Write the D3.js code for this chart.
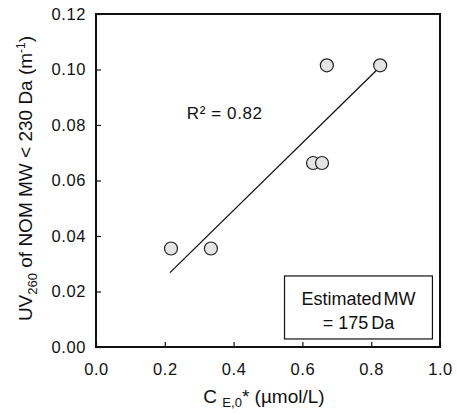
<!DOCTYPE html>
<html>
<head>
<meta charset="utf-8">
<script src="https://cdn.jsdelivr.net/npm/d3@7"></script>
<style>
  body { margin: 0; background: #fff; }
  text { font-family: "Liberation Sans", Arial, sans-serif; fill: #111; }
</style>
</head>
<body>
<div id="chart"></div>
<script>
var svgWidth = 457;
var svgHeight = 415;

var margin = { top: 14, right: 17, bottom: 68, left: 96 };
var width  = svgWidth  - margin.left - margin.right;
var height = svgHeight - margin.top  - margin.bottom;

// measured points
var ceValues = [0.218, 0.334, 0.631, 0.657, 0.671, 0.826];
var uvValues = [0.0355, 0.0355, 0.0663, 0.0663, 0.1015, 0.1015];

// regression line end points
var fitX = [0.215, 0.826];
var fitY = [0.0268, 0.1010];

var xTicks = [0.0, 0.2, 0.4, 0.6, 0.8, 1.0];
var yTicks = [0.00, 0.02, 0.04, 0.06, 0.08, 0.10, 0.12];

var svg = d3.select("#chart")
  .append("svg")
  .attr("width", svgWidth)
  .attr("height", svgHeight);

var chartGroup = svg.append("g")
  .attr("transform", `translate(${margin.left}, ${margin.top})`);

var xScale = d3.scaleLinear().domain([0, 1]).range([0, width]);
var yScale = d3.scaleLinear().domain([0, 0.12]).range([height, 0]);

// axes with inward ticks
var bottomAxis = d3.axisBottom(xScale)
  .tickValues(xTicks)
  .tickFormat(d3.format(".1f"))
  .tickSizeInner(-5)
  .tickSizeOuter(0)
  .tickPadding(16);

var leftAxis = d3.axisLeft(yScale)
  .tickValues(yTicks)
  .tickFormat(d3.format(".2f"))
  .tickSizeInner(-5)
  .tickSizeOuter(0)
  .tickPadding(10);

var xAxis = chartGroup.append("g")
  .attr("transform", `translate(0, ${height})`)
  .call(bottomAxis);

var yAxis = chartGroup.append("g")
  .call(leftAxis);

[xAxis, yAxis].forEach(function(ax) {
  ax.select(".domain").remove();
  ax.selectAll("line").attr("stroke", "#111").attr("stroke-width", 1.2);
  ax.selectAll("text")
    .attr("font-size", "16.5px")
    .attr("letter-spacing", "0.6px")
    .attr("fill", "#111");
});

// frame
chartGroup.append("rect")
  .attr("x", 0)
  .attr("y", 0)
  .attr("width", width)
  .attr("height", height)
  .attr("fill", "none")
  .attr("stroke", "#111")
  .attr("stroke-width", 2);

// regression line
chartGroup.append("line")
  .attr("x1", xScale(fitX[0]))
  .attr("y1", yScale(fitY[0]))
  .attr("x2", xScale(fitX[1]))
  .attr("y2", yScale(fitY[1]))
  .attr("stroke", "#111")
  .attr("stroke-width", 1.3);

// points
chartGroup.selectAll("circle.pt")
  .data(ceValues)
  .enter()
  .append("circle")
  .attr("class", "pt")
  .attr("cx", d => xScale(d))
  .attr("cy", (d, i) => yScale(uvValues[i]))
  .attr("r", 6.5)
  .attr("fill", "#e4e4e4")
  .attr("stroke", "#222")
  .attr("stroke-width", 1.2);

// R² annotation
chartGroup.append("text")
  .attr("x", xScale(0.264))
  .attr("y", yScale(0.0823))
  .attr("font-size", "17px")
  .attr("letter-spacing", "0.6px")
  .text("R² = 0.82");

// box with estimated MW
var box = chartGroup.append("g");
box.append("rect")
  .attr("x", xScale(0.548))
  .attr("y", yScale(0.0256))
  .attr("width", xScale(0.978) - xScale(0.548))
  .attr("height", yScale(0.0029) - yScale(0.0256))
  .attr("fill", "#fff")
  .attr("stroke", "#111")
  .attr("stroke-width", 1.2);
box.append("text")
  .attr("x", xScale(0.763))
  .attr("y", yScale(0.0152))
  .attr("text-anchor", "middle")
  .attr("font-size", "18px")
  .attr("word-spacing", "-3px")
  .text("Estimated MW");
var line2 = box.append("text")
  .attr("x", xScale(0.763))
  .attr("y", yScale(0.0066))
  .attr("text-anchor", "middle")
  .attr("font-size", "18px");
line2.append("tspan").text("= 175");
line2.append("tspan").attr("dx", 3).text("Da");

// x axis label
var xLabel = chartGroup.append("text")
  .attr("x", width / 2 - 4)
  .attr("y", height + 56)
  .attr("text-anchor", "middle")
  .attr("font-size", "19px");
xLabel.append("tspan").text("C ");
xLabel.append("tspan").attr("font-size", "13px").attr("dy", 4).text("E,0");
xLabel.append("tspan").attr("dy", -4).text("* (µmol/L)");

// y axis label
var yLabel = chartGroup.append("text")
  .attr("transform", "rotate(-90)")
  .attr("x", -height / 2 + 2)
  .attr("y", -margin.left + 32)
  .attr("text-anchor", "middle")
  .attr("font-size", "19px");
yLabel.append("tspan").text("UV");
yLabel.append("tspan").attr("font-size", "13px").attr("dy", 5).text("260");
yLabel.append("tspan").attr("dy", -5).text(" of NOM MW < 230 Da (m");
yLabel.append("tspan").attr("font-size", "12px").attr("dy", -7).text("-1");
yLabel.append("tspan").attr("dy", 7).text(")");
</script>
</body>
</html>
